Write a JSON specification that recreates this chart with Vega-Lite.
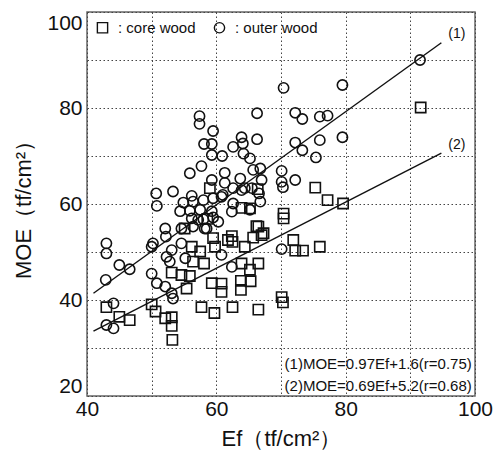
{
  "$schema": "https://vega.github.io/schema/vega-lite/v6.json",
  "autosize": {"type": "none"},
  "width": 388,
  "height": 384,
  "padding": {"left": 87, "top": 12, "right": 29, "bottom": 54},
  "background": "white",
  "config": {
    "font": "Liberation Sans",
    "view": {"stroke": "#666", "strokeWidth": 1.5},
    "axis": {
      "domain": false,
      "ticks": false,
      "grid": true,
      "gridColor": "#444",
      "gridDash": [1.5, 2.5],
      "gridWidth": 1,
      "labelFont": "Liberation Sans",
      "labelFontSize": 21,
      "labelColor": "#111",
      "labelOverlap": false,
      "titleFont": "Liberation Sans",
      "titleFontSize": 22,
      "titleFontWeight": "normal",
      "titleColor": "#111"
    }
  },
  "datasets": {
    "pts": [
      {"Ef": 91.5, "MOE": 90.0, "wood": "outer wood"},
      {"Ef": 70.4, "MOE": 84.2, "wood": "outer wood"},
      {"Ef": 79.5, "MOE": 84.8, "wood": "outer wood"},
      {"Ef": 57.4, "MOE": 78.3, "wood": "outer wood"},
      {"Ef": 57.4, "MOE": 76.7, "wood": "outer wood"},
      {"Ef": 66.3, "MOE": 78.9, "wood": "outer wood"},
      {"Ef": 72.2, "MOE": 79.0, "wood": "outer wood"},
      {"Ef": 73.3, "MOE": 77.7, "wood": "outer wood"},
      {"Ef": 76.0, "MOE": 78.2, "wood": "outer wood"},
      {"Ef": 77.2, "MOE": 78.4, "wood": "outer wood"},
      {"Ef": 59.5, "MOE": 75.2, "wood": "outer wood"},
      {"Ef": 58.1, "MOE": 72.5, "wood": "outer wood"},
      {"Ef": 59.3, "MOE": 72.5, "wood": "outer wood"},
      {"Ef": 63.9, "MOE": 73.9, "wood": "outer wood"},
      {"Ef": 62.6, "MOE": 71.9, "wood": "outer wood"},
      {"Ef": 64.1, "MOE": 72.6, "wood": "outer wood"},
      {"Ef": 66.3, "MOE": 73.5, "wood": "outer wood"},
      {"Ef": 72.2, "MOE": 72.8, "wood": "outer wood"},
      {"Ef": 76.0, "MOE": 73.3, "wood": "outer wood"},
      {"Ef": 79.5, "MOE": 73.9, "wood": "outer wood"},
      {"Ef": 73.3, "MOE": 71.2, "wood": "outer wood"},
      {"Ef": 75.4, "MOE": 69.7, "wood": "outer wood"},
      {"Ef": 59.3, "MOE": 70.2, "wood": "outer wood"},
      {"Ef": 60.9, "MOE": 70.0, "wood": "outer wood"},
      {"Ef": 64.2, "MOE": 70.5, "wood": "outer wood"},
      {"Ef": 65.2, "MOE": 69.5, "wood": "outer wood"},
      {"Ef": 57.7, "MOE": 67.9, "wood": "outer wood"},
      {"Ef": 55.9, "MOE": 66.4, "wood": "outer wood"},
      {"Ef": 61.3, "MOE": 66.5, "wood": "outer wood"},
      {"Ef": 65.7, "MOE": 67.1, "wood": "outer wood"},
      {"Ef": 66.8, "MOE": 67.4, "wood": "outer wood"},
      {"Ef": 70.1, "MOE": 66.9, "wood": "outer wood"},
      {"Ef": 59.3, "MOE": 65.0, "wood": "outer wood"},
      {"Ef": 61.3, "MOE": 64.4, "wood": "outer wood"},
      {"Ef": 63.7, "MOE": 65.3, "wood": "outer wood"},
      {"Ef": 67.0, "MOE": 65.0, "wood": "outer wood"},
      {"Ef": 70.1, "MOE": 64.6, "wood": "outer wood"},
      {"Ef": 70.3, "MOE": 63.5, "wood": "outer wood"},
      {"Ef": 72.2, "MOE": 65.0, "wood": "outer wood"},
      {"Ef": 50.7, "MOE": 62.2, "wood": "outer wood"},
      {"Ef": 50.8, "MOE": 59.6, "wood": "outer wood"},
      {"Ef": 53.3, "MOE": 62.6, "wood": "outer wood"},
      {"Ef": 56.2, "MOE": 61.7, "wood": "outer wood"},
      {"Ef": 54.9, "MOE": 60.3, "wood": "outer wood"},
      {"Ef": 56.4, "MOE": 60.5, "wood": "outer wood"},
      {"Ef": 58.0, "MOE": 60.8, "wood": "outer wood"},
      {"Ef": 59.5, "MOE": 61.2, "wood": "outer wood"},
      {"Ef": 61.0, "MOE": 61.9, "wood": "outer wood"},
      {"Ef": 62.6, "MOE": 63.3, "wood": "outer wood"},
      {"Ef": 63.9, "MOE": 62.9, "wood": "outer wood"},
      {"Ef": 65.5, "MOE": 63.3, "wood": "outer wood"},
      {"Ef": 66.6, "MOE": 62.2, "wood": "outer wood"},
      {"Ef": 66.8, "MOE": 60.5, "wood": "outer wood"},
      {"Ef": 62.6, "MOE": 60.1, "wood": "outer wood"},
      {"Ef": 65.2, "MOE": 58.8, "wood": "outer wood"},
      {"Ef": 54.4, "MOE": 58.5, "wood": "outer wood"},
      {"Ef": 55.9, "MOE": 58.6, "wood": "outer wood"},
      {"Ef": 57.5, "MOE": 58.8, "wood": "outer wood"},
      {"Ef": 59.3, "MOE": 58.5, "wood": "outer wood"},
      {"Ef": 59.5, "MOE": 57.2, "wood": "outer wood"},
      {"Ef": 56.2, "MOE": 57.0, "wood": "outer wood"},
      {"Ef": 58.0, "MOE": 56.8, "wood": "outer wood"},
      {"Ef": 52.1, "MOE": 54.9, "wood": "outer wood"},
      {"Ef": 52.2, "MOE": 53.2, "wood": "outer wood"},
      {"Ef": 54.6, "MOE": 54.9, "wood": "outer wood"},
      {"Ef": 56.4, "MOE": 55.3, "wood": "outer wood"},
      {"Ef": 58.5, "MOE": 54.9, "wood": "outer wood"},
      {"Ef": 50.0, "MOE": 51.1, "wood": "outer wood"},
      {"Ef": 50.2, "MOE": 51.8, "wood": "outer wood"},
      {"Ef": 53.1, "MOE": 50.4, "wood": "outer wood"},
      {"Ef": 43.0, "MOE": 51.8, "wood": "outer wood"},
      {"Ef": 43.0, "MOE": 49.7, "wood": "outer wood"},
      {"Ef": 45.0, "MOE": 47.3, "wood": "outer wood"},
      {"Ef": 46.6, "MOE": 46.4, "wood": "outer wood"},
      {"Ef": 42.9, "MOE": 44.2, "wood": "outer wood"},
      {"Ef": 54.6, "MOE": 51.8, "wood": "outer wood"},
      {"Ef": 60.8, "MOE": 49.4, "wood": "outer wood"},
      {"Ef": 62.4, "MOE": 46.9, "wood": "outer wood"},
      {"Ef": 70.1, "MOE": 50.6, "wood": "outer wood"},
      {"Ef": 52.3, "MOE": 49.0, "wood": "outer wood"},
      {"Ef": 52.8, "MOE": 48.0, "wood": "outer wood"},
      {"Ef": 50.0, "MOE": 45.5, "wood": "outer wood"},
      {"Ef": 50.8, "MOE": 43.5, "wood": "outer wood"},
      {"Ef": 52.1, "MOE": 42.8, "wood": "outer wood"},
      {"Ef": 53.1, "MOE": 41.4, "wood": "outer wood"},
      {"Ef": 53.3, "MOE": 40.3, "wood": "outer wood"},
      {"Ef": 44.1, "MOE": 39.3, "wood": "outer wood"},
      {"Ef": 43.0, "MOE": 34.8, "wood": "outer wood"},
      {"Ef": 44.1, "MOE": 34.1, "wood": "outer wood"},
      {"Ef": 55.2, "MOE": 48.7, "wood": "outer wood"},
      {"Ef": 60.3, "MOE": 56.3, "wood": "outer wood"},
      {"Ef": 58.2, "MOE": 54.9, "wood": "outer wood"},
      {"Ef": 62.4, "MOE": 58.4, "wood": "outer wood"},
      {"Ef": 60.8, "MOE": 61.5, "wood": "outer wood"},
      {"Ef": 57.2, "MOE": 56.7, "wood": "outer wood"},
      {"Ef": 64.4, "MOE": 63.3, "wood": "outer wood"},
      {"Ef": 91.6, "MOE": 80.1, "wood": "core wood"},
      {"Ef": 75.3, "MOE": 63.4, "wood": "core wood"},
      {"Ef": 77.2, "MOE": 60.8, "wood": "core wood"},
      {"Ef": 79.6, "MOE": 60.1, "wood": "core wood"},
      {"Ef": 70.4, "MOE": 58.0, "wood": "core wood"},
      {"Ef": 70.4, "MOE": 57.0, "wood": "core wood"},
      {"Ef": 71.9, "MOE": 52.5, "wood": "core wood"},
      {"Ef": 72.2, "MOE": 50.3, "wood": "core wood"},
      {"Ef": 73.4, "MOE": 50.3, "wood": "core wood"},
      {"Ef": 76.0, "MOE": 51.1, "wood": "core wood"},
      {"Ef": 59.0, "MOE": 63.3, "wood": "core wood"},
      {"Ef": 66.4, "MOE": 63.1, "wood": "core wood"},
      {"Ef": 63.9, "MOE": 59.2, "wood": "core wood"},
      {"Ef": 65.2, "MOE": 59.1, "wood": "core wood"},
      {"Ef": 58.6, "MOE": 56.9, "wood": "core wood"},
      {"Ef": 66.2, "MOE": 55.4, "wood": "core wood"},
      {"Ef": 67.3, "MOE": 53.9, "wood": "core wood"},
      {"Ef": 62.4, "MOE": 53.3, "wood": "core wood"},
      {"Ef": 61.8, "MOE": 52.5, "wood": "core wood"},
      {"Ef": 59.5, "MOE": 52.9, "wood": "core wood"},
      {"Ef": 59.8, "MOE": 51.1, "wood": "core wood"},
      {"Ef": 64.4, "MOE": 51.1, "wood": "core wood"},
      {"Ef": 65.7, "MOE": 53.0, "wood": "core wood"},
      {"Ef": 56.2, "MOE": 51.1, "wood": "core wood"},
      {"Ef": 57.5, "MOE": 50.1, "wood": "core wood"},
      {"Ef": 55.1, "MOE": 54.9, "wood": "core wood"},
      {"Ef": 66.5, "MOE": 55.3, "wood": "core wood"},
      {"Ef": 67.0, "MOE": 53.5, "wood": "core wood"},
      {"Ef": 62.5, "MOE": 52.1, "wood": "core wood"},
      {"Ef": 56.4, "MOE": 48.0, "wood": "core wood"},
      {"Ef": 58.1, "MOE": 47.6, "wood": "core wood"},
      {"Ef": 63.9, "MOE": 47.6, "wood": "core wood"},
      {"Ef": 65.2, "MOE": 46.3, "wood": "core wood"},
      {"Ef": 66.5, "MOE": 47.6, "wood": "core wood"},
      {"Ef": 53.1, "MOE": 45.7, "wood": "core wood"},
      {"Ef": 54.6, "MOE": 45.2, "wood": "core wood"},
      {"Ef": 55.9, "MOE": 45.0, "wood": "core wood"},
      {"Ef": 59.3, "MOE": 43.5, "wood": "core wood"},
      {"Ef": 60.8, "MOE": 43.4, "wood": "core wood"},
      {"Ef": 60.8, "MOE": 41.7, "wood": "core wood"},
      {"Ef": 63.8, "MOE": 44.0, "wood": "core wood"},
      {"Ef": 65.3, "MOE": 43.9, "wood": "core wood"},
      {"Ef": 63.8, "MOE": 42.1, "wood": "core wood"},
      {"Ef": 57.7, "MOE": 38.5, "wood": "core wood"},
      {"Ef": 59.7, "MOE": 37.3, "wood": "core wood"},
      {"Ef": 62.5, "MOE": 38.5, "wood": "core wood"},
      {"Ef": 66.5, "MOE": 38.0, "wood": "core wood"},
      {"Ef": 70.1, "MOE": 40.6, "wood": "core wood"},
      {"Ef": 70.3, "MOE": 39.5, "wood": "core wood"},
      {"Ef": 43.0, "MOE": 38.5, "wood": "core wood"},
      {"Ef": 45.0, "MOE": 36.5, "wood": "core wood"},
      {"Ef": 46.6, "MOE": 35.8, "wood": "core wood"},
      {"Ef": 50.0, "MOE": 39.1, "wood": "core wood"},
      {"Ef": 50.6, "MOE": 37.6, "wood": "core wood"},
      {"Ef": 52.1, "MOE": 36.2, "wood": "core wood"},
      {"Ef": 53.1, "MOE": 36.4, "wood": "core wood"},
      {"Ef": 53.1, "MOE": 34.6, "wood": "core wood"},
      {"Ef": 53.2, "MOE": 31.7, "wood": "core wood"},
      {"Ef": 55.4, "MOE": 42.4, "wood": "core wood"}
    ],
    "lines": [
      {"Ef": 41.0, "MOE": 41.4, "line": "1"},
      {"Ef": 94.8, "MOE": 93.6, "line": "1"},
      {"Ef": 41.0, "MOE": 33.5, "line": "2"},
      {"Ef": 94.8, "MOE": 70.6, "line": "2"}
    ],
    "linelabels": [
      {"Ef": 97.2, "MOE": 95.4, "label": "(1)"},
      {"Ef": 97.2, "MOE": 72.3, "label": "(2)"}
    ],
    "eqs": [
      {"Ef": 99.5, "MOE": 26.7, "label": "(1)MOE=0.97Ef+1.6(r=0.75)"},
      {"Ef": 99.5, "MOE": 22.1, "label": "(2)MOE=0.69Ef+5.2(r=0.68)"}
    ]
  },
  "encoding": {
    "x": {
      "field": "Ef",
      "type": "quantitative",
      "scale": {"domain": [40, 100], "nice": false, "zero": false},
      "axis": {
        "title": "Ef（tf/cm²）",
        "values": [40, 50, 60, 70, 80, 90, 100],
        "labelExpr": "datum.value % 20 == 0 ? datum.label : ''",
        "labelFlush": false,
        "labelPadding": 2,
        "titlePadding": 9
      }
    },
    "y": {
      "field": "MOE",
      "type": "quantitative",
      "scale": {"domain": [20, 100], "nice": false, "zero": false},
      "axis": {
        "title": "MOE（tf/cm²）",
        "values": [20, 30, 40, 50, 60, 70, 80, 90, 100],
        "labelExpr": "datum.value % 20 == 0 ? datum.label : ''",
        "labelFlush": true,
        "labelPadding": 5,
        "titlePadding": 11
      }
    }
  },
  "layer": [
    {
      "data": {"name": "lines"},
      "mark": {"type": "line", "color": "#111", "strokeWidth": 1.4},
      "encoding": {"detail": {"field": "line", "type": "nominal"}}
    },
    {
      "data": {"name": "pts"},
      "mark": {"type": "point", "filled": false, "color": "#111", "strokeWidth": 1.6, "size": 105, "opacity": 1},
      "encoding": {
        "shape": {
          "field": "wood",
          "type": "nominal",
          "scale": {"domain": ["core wood", "outer wood"], "range": ["square", "circle"]},
          "legend": {
            "title": null,
            "orient": "top-left",
            "direction": "horizontal",
            "offset": 8,
            "labelExpr": "': ' + datum.label",
            "labelFont": "Liberation Sans",
            "labelFontSize": 15,
            "labelColor": "#111",
            "labelOffset": 8,
            "columnPadding": 15,
            "symbolSize": 105,
            "symbolStrokeColor": "#111",
            "symbolStrokeWidth": 1.4,
            "symbolFillColor": "transparent"
          }
        }
      }
    },
    {
      "data": {"name": "linelabels"},
      "mark": {"type": "text", "fontSize": 14, "color": "#111", "align": "center", "baseline": "middle"},
      "encoding": {"text": {"field": "label"}}
    },
    {
      "data": {"name": "eqs"},
      "mark": {"type": "text", "fontSize": 15, "color": "#111", "align": "right", "baseline": "middle"},
      "encoding": {"text": {"field": "label"}}
    }
  ]
}
